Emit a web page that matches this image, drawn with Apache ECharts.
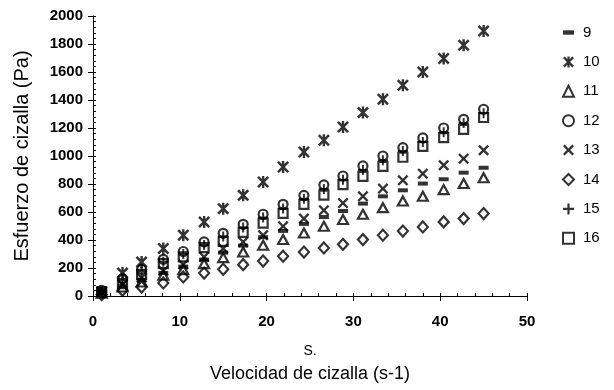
<!DOCTYPE html>
<html>
<head>
<meta charset="utf-8">
<script src="https://cdn.jsdelivr.net/npm/echarts@6/dist/echarts.min.js"></script>
<style>
html,body{margin:0;padding:0;background:#fff;}
#c{width:614px;height:390px;}
</style>
</head>
<body>
<div id="c"></div>
<script>
// Shear rate (x) values
const shearRate = [1.0, 3.4, 5.6, 8.1, 10.4, 12.8, 15.0, 17.3, 19.6, 21.9, 24.3, 26.6, 28.8, 31.1, 33.4, 35.7, 38.0, 40.4, 42.7, 45.0];
// Shear stress (Pa) per sample
const s9  = [25, 70, 115, 165, 210, 260, 310, 360, 420, 465, 515, 564, 607, 660, 712, 755, 803, 834, 881, 916];
const s10 = [30, 164, 243, 339, 434, 529, 624, 719, 814, 921, 1029, 1112, 1207, 1310, 1405, 1505, 1600, 1696, 1791, 1893];
const s11 = [20, 64, 100, 148, 188, 231, 274, 314, 362, 403, 450, 498, 546, 584, 631, 679, 712, 760, 803, 845];
const s12 = [40, 124, 190, 262, 318, 386, 448, 512, 584, 655, 719, 794, 857, 929, 1000, 1060, 1129, 1200, 1262, 1334];
const s13 = [30, 80, 130, 180, 225, 279, 339, 386, 434, 498, 553, 612, 664, 712, 767, 826, 874, 934, 981, 1041];
const s14 = [10, 41, 64, 93, 136, 164, 191, 224, 250, 284, 314, 343, 369, 403, 434, 464, 493, 529, 553, 589];
const s15 = [35, 110, 175, 245, 300, 365, 425, 490, 560, 625, 695, 765, 830, 900, 970, 1035, 1100, 1170, 1235, 1305];
const s16 = [30, 88, 155, 231, 279, 345, 390, 455, 520, 590, 655, 720, 796, 855, 926, 991, 1069, 1131, 1190, 1275];
const seriesNames = ['9', '10', '11', '12', '13', '14', '15', '16'];
const xTitle = 'Velocidad de cizalla (s-1)';
const xSub = 'S.';
const yTitle = 'Esfuerzo de cizalla (Pa)';

const FONT = '"Liberation Sans", Arial, sans-serif';
const pX = 'path://M0,1.5L1.5,0L5,3.5L8.5,0L10,1.5L6.5,5L10,8.5L8.5,10L5,6.5L1.5,10L0,8.5L3.5,5Z';
const pAst = 'path://M0,1.5L1.5,0L5,3.5L8.5,0L10,1.5L6.5,5L10,8.5L8.5,10L5,6.5L1.5,10L0,8.5L3.5,5Z M4,0L6,0L6,10L4,10Z';
const pPlus = 'path://M4,0H6V4H10V6H6V10H4V6H0V4H4Z';
const pDash = 'path://M0,0H10V4H0Z';
const hollow = {color: 'rgba(255,255,255,0)', borderColor: '#000', borderWidth: 2.2};
const solid = {color: '#000'};

const defs = [
  {data: s9,  symbol: pDash, size: [10, 4], style: solid},
  {data: s10, symbol: pAst, size: 12, style: solid},
  {data: s11, symbol: 'triangle', size: [10, 9], style: hollow},
  {data: s12, symbol: 'circle', size: 9, style: hollow},
  {data: s13, symbol: pX, size: 11, style: solid},
  {data: s14, symbol: 'diamond', size: [10, 11], style: hollow},
  {data: s15, symbol: pPlus, size: 10, style: solid},
  {data: s16, symbol: 'rect', size: 9, style: hollow}
];

const series = defs.map((d, k) => ({
  name: seriesNames[k],
  type: 'scatter',
  symbol: d.symbol,
  symbolSize: d.size,
  itemStyle: d.style,
  data: shearRate.map((x, i) => [x, d.data[i]])
}));

const legendIcons = [pDash, pAst, 'triangle', 'circle', pX, 'diamond', pPlus, 'rect'];

const chart = echarts.init(document.getElementById('c'), null, {renderer: 'canvas'});
chart.setOption({
  animation: false,
  backgroundColor: '#fff',
  textStyle: {fontFamily: FONT, color: '#000'},
  grid: {left: 93, top: 16, width: 434, height: 280, containLabel: false},
  legend: {
    orient: 'vertical',
    left: 557,
    top: 20,
    itemWidth: 11,
    itemHeight: 11,
    itemGap: 14.4,
    textStyle: {fontSize: 15, color: '#000', fontFamily: FONT, padding: [0, 0, 0, 4]},
    data: seriesNames.map((n, k) => ({name: n, icon: legendIcons[k]}))
  },
  xAxis: [{
    type: 'value', min: 0, max: 50, interval: 10,
    axisLine: {lineStyle: {color: '#000', width: 1}},
    axisTick: {show: true, length: 5, lineStyle: {color: '#000'}},
    axisLabel: {fontSize: 15, fontWeight: 'bold', color: '#000', margin: 18, fontFamily: FONT},
    splitLine: {show: false},
    name: '{a|' + xSub + '}\n{b|' + xTitle + '}',
    nameLocation: 'middle',
    nameGap: 44,
    nameTextStyle: {
      rich: {
        a: {fontSize: 14, lineHeight: 22, color: '#000', fontFamily: FONT},
        b: {fontSize: 18, lineHeight: 24, color: '#000', fontFamily: FONT}
      }
    }
  }, {
    type: 'value', min: 0, max: 50, interval: 2, position: 'bottom',
    axisLine: {show: false, onZero: false},
    axisTick: {show: true, inside: true, length: 3, lineStyle: {color: '#000', width: 1}},
    axisLabel: {show: false},
    splitLine: {show: false}
  }],
  yAxis: [{
    type: 'value', min: 0, max: 2000, interval: 200,
    axisLine: {show: true, lineStyle: {color: '#000', width: 1}},
    axisTick: {show: true, length: 5, lineStyle: {color: '#000'}},
    axisLabel: {fontSize: 15, fontWeight: 'bold', color: '#000', margin: 10, fontFamily: FONT,
      formatter: function (v) { return String(v); }},
    splitLine: {show: false},
    name: yTitle,
    nameLocation: 'middle',
    nameGap: 61,
    nameTextStyle: {fontSize: 20, color: '#000', fontFamily: FONT}
  }, {
    type: 'value', min: 0, max: 2000, interval: 40, position: 'left',
    axisLine: {show: false, onZero: false},
    axisTick: {show: true, inside: true, length: 3, lineStyle: {color: '#000', width: 1}},
    axisLabel: {show: false},
    splitLine: {show: false}
  }],
  series: series
});
</script>
</body>
</html>
